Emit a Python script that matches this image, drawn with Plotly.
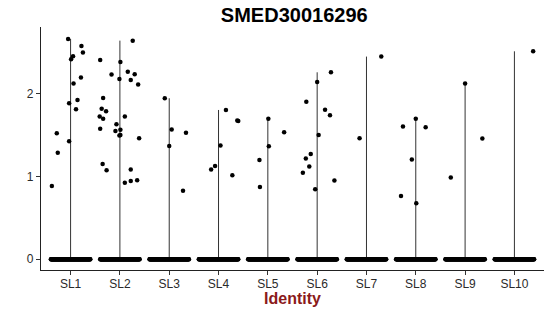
import numpy as np
import plotly.graph_objects as go

groups = ["SL1", "SL2", "SL3", "SL4", "SL5", "SL6", "SL7", "SL8", "SL9", "SL10"]

# non-zero expression values per identity
values = {
    "SL1": [0.887, 1.524, 1.29, 2.665, 1.887, 1.427, 2.42, 2.456, 2.125, 1.927, 1.815, 2.20, 2.58, 2.50],
    "SL2": [2.41, 1.95, 1.82, 1.79, 1.726, 1.70, 1.58, 1.153, 1.077, 2.234, 1.633, 1.552, 2.387, 2.18,
            1.568, 1.496, 1.504, 1.726, 0.927, 2.27, 2.17, 2.645, 1.085, 0.948, 2.238, 2.113, 0.956, 1.464],
    "SL3": [1.948, 1.371, 1.569, 1.532, 0.83],
    "SL4": [1.085, 1.129, 1.375, 1.806, 1.016, 1.68, 1.673],
    "SL5": [1.20, 0.875, 1.70, 1.367, 1.536],
    "SL6": [1.907, 1.048, 1.218, 1.121, 1.274, 0.847, 2.145, 1.504, 1.81, 1.742, 2.262, 0.952],
    "SL7": [1.464, 2.452],
    "SL8": [0.766, 1.605, 1.206, 1.70, 0.677, 1.597],
    "SL9": [0.988, 2.125, 1.46],
    "SL10": [2.516],
}
# horizontal jitter (fraction of category width)
jitter = {
    "SL1": [-0.38, -0.28, -0.26, -0.05, -0.03, -0.03, 0.01, 0.05, 0.06, 0.14, 0.11, 0.21, 0.22, 0.25],
    "SL2": [-0.40, -0.34, -0.37, -0.28, -0.41, -0.34, -0.40, -0.35, -0.27, -0.17, -0.07, -0.09, 0.01, -0.01,
            0.01, -0.01, 0.01, 0.10, 0.10, 0.16, 0.22, 0.26, 0.22, 0.22, 0.30, 0.37, 0.35, 0.39],
    "SL3": [-0.09, 0.0, 0.05, 0.34, 0.28],
    "SL4": [-0.15, -0.07, 0.04, 0.15, 0.28, 0.38, 0.40],
    "SL5": [-0.17, -0.16, 0.01, 0.02, 0.33],
    "SL6": [-0.22, -0.29, -0.23, -0.16, -0.13, -0.04, 0.0, 0.03, 0.16, 0.26, 0.28, 0.35],
    "SL7": [-0.14, 0.30],
    "SL8": [-0.30, -0.26, -0.08, 0.0, 0.01, 0.20],
    "SL9": [-0.29, 0.0, 0.35],
    "SL10": [0.38],
}
n_zero = 120  # cells with zero expression per identity (dense band)

fig = go.Figure()

# violins (degenerate: thin vertical lines from 0 to max)
lx, ly = [], []
for i, g in enumerate(groups, start=1):
    lx += [i, i, None]
    ly += [0, max(values[g]), None]
fig.add_trace(go.Scatter(x=lx, y=ly, mode="lines", line=dict(color="#333333", width=1),
                         hoverinfo="skip", showlegend=False))

# zero points
zx, zy = [], []
offs = np.linspace(-0.4, 0.4, n_zero)
for i, g in enumerate(groups, start=1):
    zx += list(i + offs)
    zy += [0] * n_zero
fig.add_trace(go.Scatter(x=zx, y=zy, mode="markers", marker=dict(color="black", size=4.5),
                         showlegend=False))

# non-zero points
px, py = [], []
for i, g in enumerate(groups, start=1):
    px += [i + j for j in jitter[g]]
    py += values[g]
fig.add_trace(go.Scatter(x=px, y=py, mode="markers", marker=dict(color="black", size=4.5),
                         showlegend=False))

fig.update_layout(
    width=550, height=316,
    margin=dict(l=41, r=6, t=27, b=46),
    plot_bgcolor="white", paper_bgcolor="white",
    font=dict(family="Liberation Sans, Arial, sans-serif", color="#333333"),
    title=dict(text="<b>SMED30016296</b>", x=0.535, xanchor="center", y=0.952, yanchor="middle",
               font=dict(size=20, color="black")),
    xaxis=dict(range=[0.4, 10.6], tickvals=list(range(1, 11)), ticktext=groups,
               showgrid=False, zeroline=False, showline=True, linecolor="#222222", linewidth=1.2,
               ticks="outside", ticklen=4, tickcolor="#333333", tickfont=dict(size=12, color="#2a2a2a"),
               ticklabelstandoff=-2,
               title=dict(text="<b>Identity</b>", font=dict(size=16, color="#8B1A1A"), standoff=2)),
    yaxis=dict(range=[-0.13, 2.81], tickvals=[0, 1, 2], showgrid=False, zeroline=False,
               showline=True, linecolor="#222222", linewidth=1.2,
               ticks="outside", ticklen=4, tickcolor="#333333", tickfont=dict(size=12, color="#2a2a2a")),
)

fig.write_html("out.html")
